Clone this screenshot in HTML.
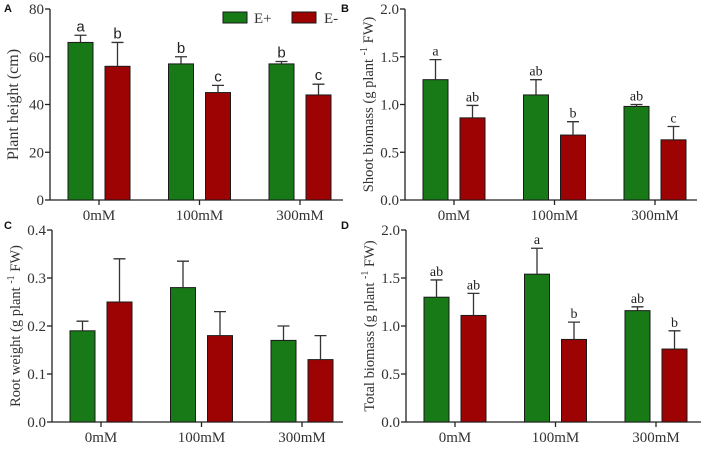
<!DOCTYPE html>
<html><head><meta charset="utf-8"><style>
body{margin:0;background:#fff}
svg{display:block}
</style></head><body>
<svg id="fig" width="708" height="450" xmlns="http://www.w3.org/2000/svg"></svg>
<script>
const categories = ["0mM","100mM","300mM"];
const heightEp = [66, 57, 57], heightEpErr = [3, 3, 1];
const heightEm = [56, 45, 44], heightEmErr = [10, 3, 4.5];
const heightLetEp = ["a","b","b"], heightLetEm = ["b","c","c"];
const shootEp = [1.26, 1.10, 0.98], shootEpErr = [0.21, 0.16, 0.02];
const shootEm = [0.86, 0.68, 0.63], shootEmErr = [0.13, 0.14, 0.14];
const shootLetEp = ["a","ab","ab"], shootLetEm = ["ab","b","c"];
const rootEp = [0.19, 0.28, 0.17], rootEpErr = [0.02, 0.055, 0.03];
const rootEm = [0.25, 0.18, 0.13], rootEmErr = [0.09, 0.05, 0.05];
const totalEp = [1.30, 1.54, 1.16], totalEpErr = [0.18, 0.27, 0.04];
const totalEm = [1.11, 0.86, 0.76], totalEmErr = [0.23, 0.18, 0.19];
const totalLetEp = ["ab","a","ab"], totalLetEm = ["ab","b","b"];
const ticksHeight = [0,20,40,60,80], ticksHeightLbl = ["0","20","40","60","80"];
const ticksBio = [0,0.5,1,1.5,2], ticksBioLbl = ["0.0","0.5","1.0","1.5","2.0"];
const ticksRoot = [0,0.1,0.2,0.3,0.4], ticksRootLbl = ["0.0","0.1","0.2","0.3","0.4"];

const NS="http://www.w3.org/2000/svg";
const svg=document.getElementById('fig');
function mk(tag,attrs,parent){const e=document.createElementNS(NS,tag);for(const k in attrs)e.setAttribute(k,attrs[k]);(parent||svg).appendChild(e);return e;}
const GREEN="#177a17", RED="#9e0303";
const serif='"Liberation Serif", serif';

function panel(p){
  const g=mk('g',{});
  
  
  const ymax=p.ticks[p.ticks.length-1];
  const yS=v=>p.y0-(v/ymax)*(p.y0-p.yTop);
  const cx=i=>p.x0+49+i*100.5;
  // axes
  const ya=mk('line',{x1:p.x0,y1:p.yTop,x2:p.x0,y2:p.y0,stroke:"#222","stroke-width":1.3},g);
  
  const xa=mk('line',{x1:p.x0,y1:p.y0,x2:p.xEnd,y2:p.y0,stroke:"#222","stroke-width":1.3},g);
  
  p.ticks.forEach((t,i)=>{
    const y=yS(t);
    mk('line',{x1:p.x0-5,y1:y,x2:p.x0,y2:y,stroke:"#222","stroke-width":1.3},g);
    const tl=mk('text',{x:p.x0-6,y:y+5,"text-anchor":"end","font-family":serif,"font-size":15,fill:"#333"},g);
    tl.textContent=p.tickLbl[i];
    
  });
  categories.forEach((c,i)=>{
    const x=cx(i);
    mk('line',{x1:x,y1:p.y0,x2:x,y2:p.y0+5,stroke:"#222","stroke-width":1.3},g);
    const cl=mk('text',{x:x,y:p.y0+20,"text-anchor":"middle","font-family":serif,"font-size":15,fill:"#333"},g);
    cl.textContent=c;
    
  });
  const series=[[p.ep,p.epErr,p.letEp,GREEN,-31,'e-plus'],[p.em,p.emErr,p.letEm,RED,6,'e-minus']];
  series.forEach(s=>{
    s[0].forEach((v,i)=>{
      const x=cx(i)+s[4], w=25, top=yS(v), et=yS(v+s[1][i]);
      const r=mk('rect',{x:x,y:top,width:w,height:p.y0-top,fill:s[3],stroke:"#1a1a1a","stroke-width":1},g);
      
      const el=mk('path',{d:`M${x+w/2},${top}V${et}M${x+w/2-6},${et}H${x+w/2+6}`,stroke:"#333","stroke-width":1.3,fill:"none"},g);
      
      if(s[2]){
        const lt=mk('text',{x:x+w/2,y:et-4,"text-anchor":"middle","font-family":p.letterSans?'"Liberation Sans", sans-serif':serif,"font-size":p.letterSans?15:14,fill:"#222"},g);
        lt.textContent=s[2][i];
        
      }
    });
  });
  const yl=mk('text',{x:0,y:0,transform:`translate(${p.x0-32},${(p.yTop+p.y0)/2}) rotate(-90)`,"text-anchor":"middle","font-family":serif,"font-size":p.yFont,fill:"#333"},g);
  yl.innerHTML=p.ylabel;
  
  const pl=mk('text',{x:p.lx,y:p.ly,"font-family":'"Liberation Sans", sans-serif',"font-size":11,"font-weight":"bold",fill:"#111"},g);
  pl.textContent=p.letter;
  
}
const unitLbl=t=>`${t} (g plant <tspan dy="-6" font-size="10">-1</tspan><tspan dy="6"> FW)</tspan>`;
panel({name:'panel-a-plant-height',x0:50,xEnd:343,yTop:9,y0:200,ticks:ticksHeight,tickLbl:ticksHeightLbl,ep:heightEp,epErr:heightEpErr,em:heightEm,emErr:heightEmErr,letEp:heightLetEp,letEm:heightLetEm,letterSans:true,ylabel:'Plant height (cm)',yFont:16,letter:'A',lx:4,ly:12});
panel({name:'panel-b-shoot-biomass',x0:405,xEnd:697,yTop:9,y0:200,ticks:ticksBio,tickLbl:ticksBioLbl,ep:shootEp,epErr:shootEpErr,em:shootEm,emErr:shootEmErr,letEp:shootLetEp,letEm:shootLetEm,ylabel:unitLbl('Shoot biomass'),yFont:14.5,letter:'B',lx:341,ly:12});
panel({name:'panel-c-root-weight',x0:52,xEnd:343,yTop:230,y0:422,ticks:ticksRoot,tickLbl:ticksRootLbl,ep:rootEp,epErr:rootEpErr,em:rootEm,emErr:rootEmErr,ylabel:unitLbl('Root weight'),yFont:14.5,letter:'C',lx:4,ly:229});
panel({name:'panel-d-total-biomass',x0:406,xEnd:701,yTop:230,y0:422,ticks:ticksBio,tickLbl:ticksBioLbl,ep:totalEp,epErr:totalEpErr,em:totalEm,emErr:totalEmErr,letEp:totalLetEp,letEm:totalLetEm,ylabel:unitLbl('Total biomass'),yFont:14.5,letter:'D',lx:341,ly:229});
// legend
const lg=mk('g',{});

const l1=mk('rect',{x:223,y:12,width:24,height:11,fill:GREEN,stroke:"#1a1a1a"},lg);

const t1=mk('text',{x:254,y:23,"font-family":serif,"font-size":15,fill:"#333"},lg);t1.textContent='E+';

const l2=mk('rect',{x:292,y:12,width:24,height:11,fill:RED,stroke:"#1a1a1a"},lg);

const t2=mk('text',{x:324,y:23,"font-family":serif,"font-size":15,fill:"#333"},lg);t2.textContent='E-';

</script>
</body></html>
